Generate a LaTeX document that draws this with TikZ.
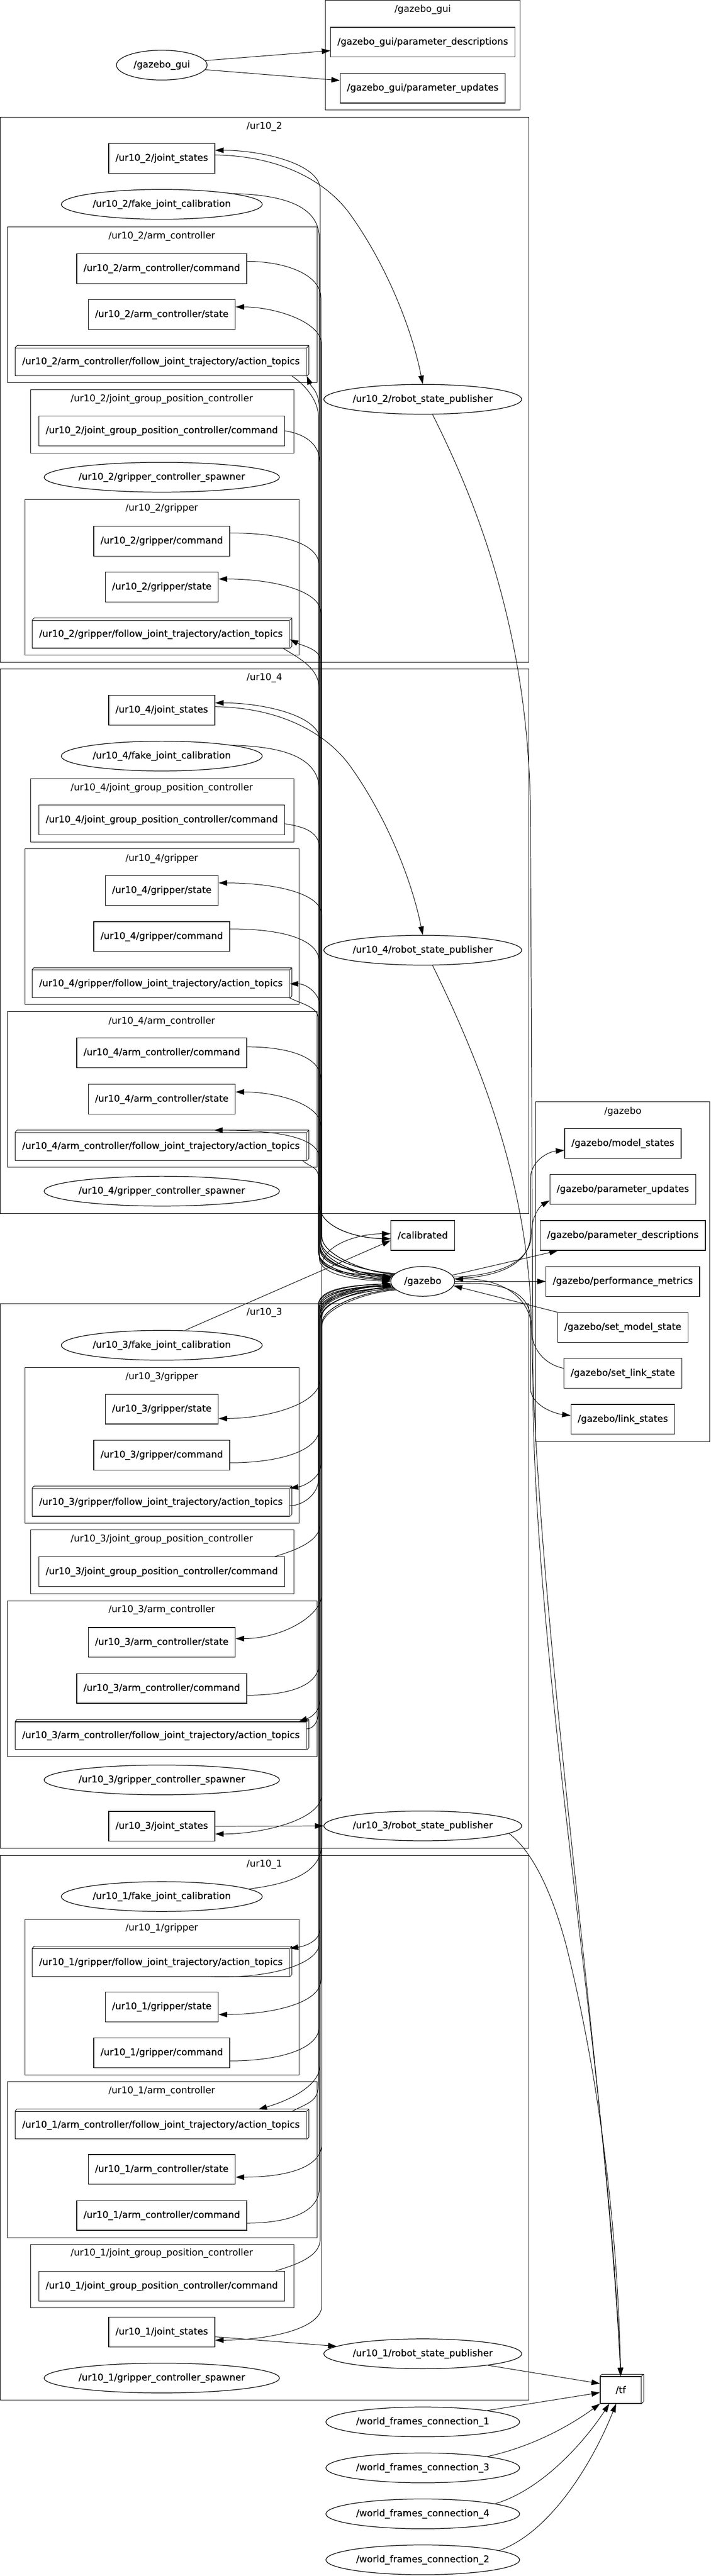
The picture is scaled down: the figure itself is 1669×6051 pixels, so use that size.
\documentclass[tikz,border=0pt]{standalone}
\usepackage{fontspec}
\setmainfont{DejaVu Sans}
\newfontfamily\nodefont{DejaVu Sans}[FakeBold=0.4]
\usetikzlibrary{arrows.meta,shapes.geometric}

\begin{document}
\begin{tikzpicture}[
    x=1bp, y=-1bp,
    line width=1.2bp,
    >={Triangle[length=20bp,width=13bp]},
    every node/.style={font=\fontsize{22bp}{26bp}\selectfont},
    topic/.style={draw, rectangle, line width=1.5bp, minimum height=70bp, inner xsep=16bp, inner ysep=0pt,
      font=\fontsize{22bp}{26bp}\nodefont},
    action/.style={topic, minimum height=65bp,
      append after command={
        (\tikzlastnode.north west) edge ([shift={(5bp,5bp)}]\tikzlastnode.north west)
        ([shift={(5bp,5bp)}]\tikzlastnode.north west) edge ([shift={(5bp,5bp)}]\tikzlastnode.north east)
        (\tikzlastnode.north east) edge ([shift={(5bp,5bp)}]\tikzlastnode.north east)
        ([shift={(5bp,5bp)}]\tikzlastnode.north east) edge ([shift={(5bp,5bp)}]\tikzlastnode.south east)
        ([shift={(5bp,5bp)}]\tikzlastnode.south east) edge (\tikzlastnode.south east)}},
    rosnode/.style={draw, ellipse, line width=1.5bp, inner sep=0pt, minimum height=70bp,
      font=\fontsize{22bp}{26bp}\nodefont},
    cluster/.style={draw, line width=1bp},
    clabel/.style={inner sep=0pt}
  ]
  \useasboundingbox (0,0) rectangle (1669,6051);

  \draw[cluster] (764,1) rectangle (1222,258);
  \node[clabel] (lgui) at (993,23) {/gazebo\_gui};
  \draw[cluster] (1,275) rectangle (1242,1555);
  \node[clabel] (lur2) at (621,297) {/ur10\_2};
  \draw[cluster] (17,533) rectangle (745,899);
  \node[clabel] (larm2) at (380,555) {/ur10\_2/arm\_controller};
  \draw[cluster] (72,915) rectangle (690,1064);
  \node[clabel] (ljgpc2) at (380,937) {/ur10\_2/joint\_group\_position\_controller};
  \draw[cluster] (59,1173) rectangle (703,1539);
  \node[clabel] (lgrip2) at (380,1194) {/ur10\_2/gripper};
  \draw[cluster] (1,1571) rectangle (1242,2850);
  \node[clabel] (lur4) at (621,1593) {/ur10\_4};
  \draw[cluster] (72,1829) rectangle (690,1978);
  \node[clabel] (ljgpc4) at (380,1851) {/ur10\_4/joint\_group\_position\_controller};
  \draw[cluster] (59,1994) rectangle (703,2359);
  \node[clabel] (lgrip4) at (380,2017) {/ur10\_4/gripper};
  \draw[cluster] (17,2376) rectangle (745,2742);
  \node[clabel] (larm4) at (380,2399) {/ur10\_4/arm\_controller};
  \draw[cluster] (1258,2588) rectangle (1667,3386);
  \node[clabel] (lgz) at (1463,2611) {/gazebo};
  \draw[cluster] (1,3062) rectangle (1242,4342);
  \node[clabel] (lur3) at (621,3084) {/ur10\_3};
  \draw[cluster] (59,3212) rectangle (703,3578);
  \node[clabel] (lgrip3) at (380,3234) {/ur10\_3/gripper};
  \draw[cluster] (72,3594) rectangle (690,3744);
  \node[clabel] (ljgpc3) at (380,3616) {/ur10\_3/joint\_group\_position\_controller};
  \draw[cluster] (17,3760) rectangle (745,4126);
  \node[clabel] (larm3) at (380,3782) {/ur10\_3/arm\_controller};
  \draw[cluster] (1,4358) rectangle (1242,5638);
  \node[clabel] (lur1) at (621,4380) {/ur10\_1};
  \draw[cluster] (59,4508) rectangle (703,4874);
  \node[clabel] (lgrip1) at (380,4530) {/ur10\_1/gripper};
  \draw[cluster] (17,4890) rectangle (745,5256);
  \node[clabel] (larm1) at (380,4912) {/ur10\_1/arm\_controller};
  \draw[cluster] (72,5272) rectangle (690,5421);
  \node[clabel] (ljgpc1) at (380,5293) {/ur10\_1/joint\_group\_position\_controller};

  \node[rosnode, minimum width=213bp] (gui) at (380,153) {/gazebo\_gui};
  \node[topic] (guiPdesc) at (993,99) {/gazebo\_gui/parameter\_descriptions};
  \node[topic] (guiPupd) at (993,207) {/gazebo\_gui/parameter\_updates};

  \node[topic] (js2) at (380,372) {/ur10\_2/joint\_states};
  \node[rosnode, minimum width=472bp] (fjc2) at (380,480) {/ur10\_2/fake\_joint\_calibration};
  \node[topic] (acCmd2) at (380,631) {/ur10\_2/arm\_controller/command};
  \node[topic] (acState2) at (380,739) {/ur10\_2/arm\_controller/state};
  \node[action] (acFjt2) at (378,850) {/ur10\_2/arm\_controller/follow\_joint\_trajectory/action\_topics};
  \node[topic] (jgpcCmd2) at (380,1012) {/ur10\_2/joint\_group\_position\_controller/command};
  \node[rosnode, minimum width=549bp] (gcs2) at (380,1121) {/ur10\_2/gripper\_controller\_spawner};
  \node[topic] (gCmd2) at (380,1271) {/ur10\_2/gripper/command};
  \node[topic] (gState2) at (380,1379) {/ur10\_2/gripper/state};
  \node[action] (gFjt2) at (378,1490) {/ur10\_2/gripper/follow\_joint\_trajectory/action\_topics};
  \node[rosnode, minimum width=463bp] (rsp2) at (993,938) {/ur10\_2/robot\_state\_publisher};

  \node[topic] (js4) at (380,1668) {/ur10\_4/joint\_states};
  \node[rosnode, minimum width=472bp] (fjc4) at (380,1776) {/ur10\_4/fake\_joint\_calibration};
  \node[topic] (jgpcCmd4) at (380,1926) {/ur10\_4/joint\_group\_position\_controller/command};
  \node[topic] (gState4) at (380,2092) {/ur10\_4/gripper/state};
  \node[topic] (gCmd4) at (380,2200) {/ur10\_4/gripper/command};
  \node[action] (gFjt4) at (378,2311) {/ur10\_4/gripper/follow\_joint\_trajectory/action\_topics};
  \node[topic] (acCmd4) at (380,2473) {/ur10\_4/arm\_controller/command};
  \node[topic] (acState4) at (380,2582) {/ur10\_4/arm\_controller/state};
  \node[action] (acFjt4) at (378,2693) {/ur10\_4/arm\_controller/follow\_joint\_trajectory/action\_topics};
  \node[rosnode, minimum width=549bp] (gcs4) at (380,2798) {/ur10\_4/gripper\_controller\_spawner};
  \node[rosnode, minimum width=463bp] (rsp4) at (993,2232) {/ur10\_4/robot\_state\_publisher};

  \node[topic] (calibrated) at (993,2902) {/calibrated};
  \node[rosnode, minimum width=150bp] (gazebo) at (993,3010) {/gazebo};

  \node[topic] (gzModel) at (1463,2686) {/gazebo/model\_states};
  \node[topic] (gzPupd) at (1463,2794) {/gazebo/parameter\_updates};
  \node[topic] (gzPdesc) at (1463,2902) {/gazebo/parameter\_descriptions};
  \node[topic] (gzPerf) at (1463,3010) {/gazebo/performance\_metrics};
  \node[topic] (gzSetModel) at (1463,3118) {/gazebo/set\_model\_state};
  \node[topic] (gzSetLink) at (1463,3226) {/gazebo/set\_link\_state};
  \node[topic] (gzLink) at (1463,3334) {/gazebo/link\_states};

  \node[rosnode, minimum width=472bp] (fjc3) at (380,3160) {/ur10\_3/fake\_joint\_calibration};
  \node[topic] (gState3) at (380,3310) {/ur10\_3/gripper/state};
  \node[topic] (gCmd3) at (380,3418) {/ur10\_3/gripper/command};
  \node[action] (gFjt3) at (378,3529) {/ur10\_3/gripper/follow\_joint\_trajectory/action\_topics};
  \node[topic] (jgpcCmd3) at (380,3692) {/ur10\_3/joint\_group\_position\_controller/command};
  \node[topic] (acState3) at (380,3858) {/ur10\_3/arm\_controller/state};
  \node[topic] (acCmd3) at (380,3966) {/ur10\_3/arm\_controller/command};
  \node[action] (acFjt3) at (378,4077) {/ur10\_3/arm\_controller/follow\_joint\_trajectory/action\_topics};
  \node[rosnode, minimum width=549bp] (gcs3) at (380,4181) {/ur10\_3/gripper\_controller\_spawner};
  \node[topic] (js3) at (380,4290) {/ur10\_3/joint\_states};
  \node[rosnode, minimum width=463bp] (rsp3) at (993,4289) {/ur10\_3/robot\_state\_publisher};

  \node[rosnode, minimum width=472bp] (fjc1) at (380,4455) {/ur10\_1/fake\_joint\_calibration};
  \node[action] (gFjt1) at (378,4610) {/ur10\_1/gripper/follow\_joint\_trajectory/action\_topics};
  \node[topic] (gState1) at (380,4714) {/ur10\_1/gripper/state};
  \node[topic] (gCmd1) at (380,4822) {/ur10\_1/gripper/command};
  \node[action] (acFjt1) at (378,4992) {/ur10\_1/arm\_controller/follow\_joint\_trajectory/action\_topics};
  \node[topic] (acState1) at (380,5096) {/ur10\_1/arm\_controller/state};
  \node[topic] (acCmd1) at (380,5204) {/ur10\_1/arm\_controller/command};
  \node[topic] (jgpcCmd1) at (380,5370) {/ur10\_1/joint\_group\_position\_controller/command};
  \node[topic] (js1) at (380,5478) {/ur10\_1/joint\_states};
  \node[rosnode, minimum width=463bp] (rsp1) at (993,5529) {/ur10\_1/robot\_state\_publisher};
  \node[rosnode, minimum width=549bp] (gcs1) at (380,5586) {/ur10\_1/gripper\_controller\_spawner};

  \node[action, minimum width=96bp, minimum height=63bp] (tf) at (1458,5614) {/tf};
  \node[rosnode, minimum width=455bp] (wfc1) at (993,5689) {/world\_frames\_connection\_1};
  \node[rosnode, minimum width=455bp] (wfc3) at (993,5797) {/world\_frames\_connection\_3};
  \node[rosnode, minimum width=455bp] (wfc4) at (993,5905) {/world\_frames\_connection\_4};
  \node[rosnode, minimum width=455bp] (wfc2) at (993,6013) {/world\_frames\_connection\_2};

  \draw[->] (gui.6) -- ([yshift=-20bp]guiPdesc.west);
  \draw[->] (gui.-6) -- ([yshift=18bp]guiPupd.west);

  \draw[->] (gazebo.168) .. controls +(-60,-3) and +(0,45) .. (752,2935) -- (752,445) .. controls +(0,-60) and +(110,0) .. ([yshift=19bp]js2.east);
  \draw[->] ([yshift=8bp]js2.east) .. controls (650,366) and (760,420) .. (820,500) .. controls (900,610) and (965,760) .. (rsp2.north);
  \draw[->] (fjc2.north east) .. controls (680,458) and (750,490) .. (750,560) -- (750,2830) .. controls (750,2880) and (830,2908) .. ([yshift=-8bp]calibrated.west);
  \draw[->] ([yshift=17bp]acCmd2.east) .. controls +(90,0) and +(0,-55) .. (754,700) -- (754,2920) .. controls +(0,45) and +(-60,-3) .. (gazebo.172);
  \draw[->] (gazebo.166) .. controls +(-60,-3) and +(0,45) .. (756,2905) -- (756,810) .. controls +(0,-55) and +(90,0) .. ([yshift=18bp]acState2.east);
  \draw[->] (gazebo.170) .. controls +(-60,-3) and +(0,45) .. (750,2950) -- (750,960) .. controls +(0,-40) and +(10,25) .. (acFjt2.south east);
  \draw[->] ([xshift=-35bp]acFjt2.south east) .. controls +(30,20) and +(0,-40) .. (748,980) -- (748,2940) .. controls +(0,45) and +(-60,-3) .. (gazebo.176);
  \draw[->] (jgpcCmd2.east) .. controls +(50,8) and +(0,-45) .. (752,1090) -- (752,2925) .. controls +(0,45) and +(-60,-3) .. (gazebo.174);
  \draw[->] ([yshift=19bp]gCmd2.east) .. controls +(120,0) and +(0,-55) .. (750,1330) -- (750,2945) .. controls +(0,45) and +(-60,-3) .. (gazebo.178);
  \draw[->] (gazebo.164) .. controls +(-60,-3) and +(0,45) .. (754,2915) -- (754,1440) .. controls +(0,-55) and +(120,0) .. ([yshift=19bp]gState2.east);
  \draw[->] (gazebo.170) .. controls +(-60,-3) and +(0,45) .. (752,2930) -- (752,1550) .. controls +(0,-25) and +(30,15) .. ([yshift=-12bp]gFjt2.east);
  \draw[->] ([xshift=-15bp]gFjt2.south east) .. controls +(40,25) and +(0,-50) .. (750,1620) -- (750,2955) .. controls +(0,45) and +(-60,-3) .. (gazebo.180);
  \draw[->] ([xshift=23bp]rsp2.south) .. controls (1130,1200) and (1240,1500) .. (1246,1900) -- (1252,3300) .. controls (1262,3950) and (1430,4900) .. (tf.north);

  \draw[->] (gazebo.168) .. controls +(-60,-3) and +(0,45) .. (752,2935) -- (752,1740) .. controls +(0,-60) and +(110,0) .. ([yshift=17bp]js4.east);
  \draw[->] ([yshift=8bp]js4.east) .. controls (650,1662) and (760,1716) .. (820,1796) .. controls (900,1906) and (965,2056) .. (rsp4.north);
  \draw[->] (fjc4.north east) .. controls (680,1754) and (750,1786) .. (750,1856) -- (750,2830) .. controls (750,2880) and (830,2908) .. ([yshift=-8bp]calibrated.west);
  \draw[->] ([yshift=-9bp]jgpcCmd4.east) .. controls +(50,8) and +(0,-45) .. (752,2000) -- (752,2925) .. controls +(0,45) and +(-60,-3) .. (gazebo.174);
  \draw[->] (gazebo.166) .. controls +(-60,-3) and +(0,45) .. (756,2905) -- (756,2150) .. controls +(0,-55) and +(120,0) .. ([yshift=18bp]gState4.east);
  \draw[->] ([yshift=18bp]gCmd4.east) .. controls +(120,0) and +(0,-55) .. (750,2260) -- (750,2945) .. controls +(0,45) and +(-60,-3) .. (gazebo.178);
  \draw[->] (gazebo.170) .. controls +(-60,-3) and +(0,45) .. (752,2930) -- (752,2365) .. controls +(0,-30) and +(40,0) .. (gFjt4.east);
  \draw[->] (gFjt4.south east) .. controls +(30,15) and +(0,-30) .. (748,2395) -- (748,2940) .. controls +(0,45) and +(-60,-3) .. (gazebo.176);
  \draw[->] ([yshift=14bp]acCmd4.east) .. controls +(90,0) and +(0,-55) .. (754,2535) -- (754,2920) .. controls +(0,45) and +(-60,-3) .. (gazebo.172);
  \draw[->] (gazebo.164) .. controls +(-60,-3) and +(0,45) .. (754,2915) -- (754,2645) .. controls +(0,-50) and +(100,0) .. ([yshift=17bp]acState4.east);
  \draw[->] (gazebo.170) .. controls +(-60,-3) and +(0,45) .. (750,2950) -- (750,2720) .. controls +(0,-50) and +(140,0) .. ([xshift=125bp,yshift=5bp]acFjt4.north);
  \draw[->] ([xshift=-10bp]acFjt4.south east) .. controls +(25,20) and +(0,-30) .. (748,2770) -- (748,2940) .. controls +(0,45) and +(-60,-3) .. (gazebo.176);
  \draw[->] ([xshift=23bp]rsp4.south) .. controls (1130,2500) and (1240,2780) .. (1248,3100) .. controls (1258,3800) and (1425,4900) .. (tf.north);

  \draw[->] (gazebo.5) .. controls (1180,3000) and (1246,2965) .. (1246,2900) -- (1246,2770) .. controls (1246,2725) and (1290,2705) .. ([yshift=-16bp]gzModel.west);
  \draw[->] (gazebo.8) .. controls (1180,2996) and (1248,2960) .. (1248,2900) .. controls (1248,2855) and (1270,2832) .. ([yshift=-26bp]gzPupd.west);
  \draw[->] (gazebo.12) -- ([xshift=42bp]gzPdesc.south west);
  \draw[->] (gazebo.east) -- (gzPerf.west);
  \draw[->] (gzSetModel.north west) -- (gazebo.352);
  \draw[->] ([yshift=12bp]gzSetLink.west) .. controls (1280,3205) and (1248,3170) .. (1248,3120) .. controls (1248,3050) and (1180,3002) .. (gazebo.4);
  \draw[->] (gazebo.356) .. controls (1190,3008) and (1246,3040) .. (1246,3100) -- (1246,3260) .. controls (1246,3300) and (1300,3320) .. ([yshift=9bp]gzLink.west);

  \draw[->] ([xshift=56bp]fjc3.north) -- ([yshift=-12bp]calibrated.west);
  \draw[->] (gazebo.192) .. controls +(-60,3) and +(0,-45) .. (752,3080) -- (752,3240) .. controls +(0,60) and +(110,0) .. ([yshift=-22bp]gState3.east);
  \draw[->] ([yshift=-18bp]gCmd3.east) .. controls +(110,0) and +(0,55) .. (750,3355) -- (750,3070) .. controls +(0,-45) and +(-60,3) .. (gazebo.188);
  \draw[->] (gazebo.190) .. controls +(-60,3) and +(0,-45) .. (754,3090) -- (754,3440) .. controls +(0,30) and +(35,-5) .. (gFjt3.north east);
  \draw[->] ([yshift=-8bp]gFjt3.east) .. controls +(30,0) and +(0,35) .. (748,3475) -- (748,3065) .. controls +(0,-45) and +(-60,3) .. (gazebo.184);
  \draw[->] ([xshift=-24bp]jgpcCmd3.north east) .. controls +(50,-15) and +(0,40) .. (752,3580) -- (752,3085) .. controls +(0,-45) and +(-60,3) .. (gazebo.186);
  \draw[->] (gazebo.194) .. controls +(-60,3) and +(0,-45) .. (756,3095) -- (756,3745) .. controls +(0,50) and +(110,0) .. ([yshift=9bp]acState3.east);
  \draw[->] ([yshift=-16bp]acCmd3.east) .. controls +(100,0) and +(0,55) .. (750,3905) -- (750,3075) .. controls +(0,-45) and +(-60,3) .. (gazebo.188);
  \draw[->] (gazebo.190) .. controls +(-60,3) and +(0,-45) .. (752,3100) -- (752,3990) .. controls +(0,30) and +(30,-10) .. ([xshift=-19bp]acFjt3.north east);
  \draw[->] ([yshift=16bp]acFjt3.east) .. controls +(15,0) and +(0,25) .. (748,4020) -- (748,3068) .. controls +(0,-45) and +(-60,3) .. (gazebo.184);
  \draw[->] (gazebo.196) .. controls +(-60,3) and +(0,-45) .. (756,3110) -- (756,4215) .. controls +(0,60) and +(110,0) .. ([yshift=-18bp]js3.east);
  \draw[->] (js3.east) -- (rsp3.west);
  \draw[->] (rsp3.355) .. controls (1240,4340) and (1290,4420) .. (1330,4570) .. controls (1400,4850) and (1450,5200) .. (tf.north);

  \draw[->] (fjc1.5) .. controls (680,4425) and (756,4400) .. (756,4330) -- (756,2975) .. controls (756,2925) and (840,2898) .. ([yshift=4bp]calibrated.west);
  \draw[->] (gazebo.190) .. controls +(-60,3) and +(0,-45) .. (752,3100) -- (752,4530) .. controls +(0,30) and +(35,-5) .. (gFjt1.north east);
  \draw[->] ([xshift=117bp]gFjt1.south) .. controls +(150,5) and +(0,45) .. (750,4565) -- (750,3070) .. controls +(0,-45) and +(-60,3) .. (gazebo.188);
  \draw[->] (gazebo.194) .. controls +(-60,3) and +(0,-45) .. (754,3095) -- (754,4650) .. controls +(0,60) and +(110,0) .. ([yshift=-18bp]gState1.east);
  \draw[->] ([yshift=-19bp]gCmd1.east) .. controls +(110,0) and +(0,55) .. (750,4760) -- (750,3075) .. controls +(0,-45) and +(-60,3) .. (gazebo.186);
  \draw[->] (gazebo.192) .. controls +(-60,3) and +(0,-45) .. (752,3085) -- (752,4850) .. controls +(0,50) and +(70,-20) .. ([xshift=229bp,yshift=4bp]acFjt1.north);
  \draw[->] ([xshift=309bp]acFjt1.north) .. controls +(40,-20) and +(0,40) .. (748,4895) -- (748,3065) .. controls +(0,-45) and +(-60,3) .. (gazebo.184);
  \draw[->] (gazebo.196) .. controls +(-60,3) and +(0,-45) .. (756,3110) -- (756,5035) .. controls +(0,60) and +(110,0) .. ([yshift=-18bp]acState1.east);
  \draw[->] ([yshift=-18bp]acCmd1.east) .. controls +(100,0) and +(0,55) .. (750,5140) -- (750,3080) .. controls +(0,-45) and +(-60,3) .. (gazebo.188);
  \draw[->] ([xshift=-22bp]jgpcCmd1.north east) .. controls +(50,-15) and +(0,40) .. (752,5260) -- (752,3090) .. controls +(0,-45) and +(-60,3) .. (gazebo.186);
  \draw[->] (gazebo.198) .. controls +(-60,3) and +(0,-45) .. (756,3115) -- (756,5415) .. controls +(0,60) and +(110,0) .. ([yshift=-19bp]js1.east);
  \draw[->] ([yshift=-11bp]js1.east) -- (rsp1.175);
  \draw[->] (rsp1.350) -- ([yshift=15bp]tf.west);

  \draw[->] (wfc1.10) -- ([yshift=-6bp]tf.west);
  \draw[->] (wfc3.10) .. controls (1260,5745) and (1350,5690) .. (tf.south west);
  \draw[->] (wfc4.8) .. controls (1270,5850) and (1370,5740) .. ([xshift=22bp]tf.south west);
  \draw[->] (wfc2.7) .. controls (1290,5950) and (1390,5790) .. ([xshift=38bp]tf.south west);
\end{tikzpicture}
\end{document}
